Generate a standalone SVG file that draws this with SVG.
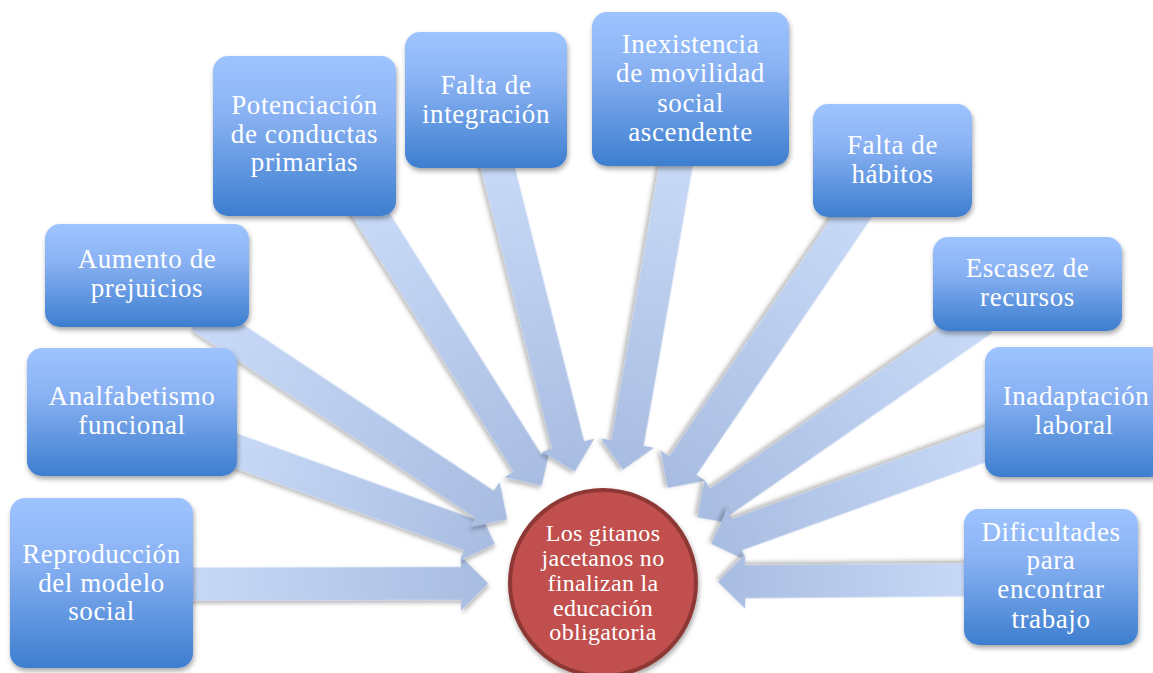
<svg xmlns="http://www.w3.org/2000/svg" width="1153" height="673" viewBox="0 0 1153 673">
<defs>
<linearGradient id="boxG" x1="0" y1="0" x2="0" y2="1">
<stop offset="0" stop-color="#9ec4ff"/>
<stop offset="0.35" stop-color="#8bb3f4"/>
<stop offset="1" stop-color="#3d7ecf"/>
</linearGradient>
<linearGradient id="arrG" x1="0" y1="0" x2="1" y2="0">
<stop offset="0" stop-color="#c9dbf8"/>
<stop offset="1" stop-color="#a8bce1"/>
</linearGradient>
<filter id="sh" x="-20%" y="-20%" width="140%" height="140%">
<feDropShadow dx="1" dy="3" stdDeviation="2.5" flood-color="#000" flood-opacity="0.35"/>
</filter>
<filter id="ash" x="-10%" y="-30%" width="120%" height="160%">
<feDropShadow dx="1.5" dy="3" stdDeviation="2" flood-color="#000" flood-opacity="0.28"/>
</filter>
</defs>
<style>
.box{fill:url(#boxG);filter:url(#sh)}
.arr{fill:url(#arrG);filter:url(#ash)}
.t{font-family:"Liberation Serif","Times New Roman",serif;font-size:27px;fill:#fff;text-anchor:middle;letter-spacing:0.6px}
.ct{font-family:"Liberation Serif","Times New Roman",serif;font-size:24px;fill:#fff;text-anchor:middle;letter-spacing:0.3px}
</style>
<rect width="1153" height="673" fill="#fff"/>
<g id="connectors">
<path class="arr" transform="translate(488,583.3) rotate(-0.14)" d="M0,0 L-27,-27 L-27,-16.5 L-315,-16.5 L-315,16.5 L-27,16.5 L-27,27 Z"/>
<path class="arr" transform="translate(494.8,544) rotate(19.83)" d="M0,0 L-27,-27 L-27,-16.5 L-294,-16.5 L-294,16.5 L-27,16.5 L-27,27 Z"/>
<path class="arr" transform="translate(507.2,519.4) rotate(33.56)" d="M0,0 L-27,-27 L-27,-16.5 L-368,-16.5 L-368,16.5 L-27,16.5 L-27,27 Z"/>
<path class="arr" transform="translate(541.7,485.7) rotate(57.81)" d="M0,0 L-27,-27 L-27,-16.5 L-339,-16.5 L-339,16.5 L-27,16.5 L-27,27 Z"/>
<path class="arr" transform="translate(574.8,471.5) rotate(75.8)" d="M0,0 L-27,-27 L-27,-16.5 L-333,-16.5 L-333,16.5 L-27,16.5 L-27,27 Z"/>
<path class="arr" transform="translate(622.8,469.7) rotate(99.94)" d="M0,0 L-27,-27 L-27,-16.5 L-328,-16.5 L-328,16.5 L-27,16.5 L-27,27 Z"/>
<path class="arr" transform="translate(667.7,487.9) rotate(124.23)" d="M0,0 L-27,-27 L-27,-16.5 L-348,-16.5 L-348,16.5 L-27,16.5 L-27,27 Z"/>
<path class="arr" transform="translate(697.5,517.4) rotate(145.22)" d="M0,0 L-27,-27 L-27,-16.5 L-347,-16.5 L-347,16.5 L-27,16.5 L-27,27 Z"/>
<path class="arr" transform="translate(711.1,543.9) rotate(160.14)" d="M0,0 L-27,-27 L-27,-16.5 L-311,-16.5 L-311,16.5 L-27,16.5 L-27,27 Z"/>
<path class="arr" transform="translate(718,582) rotate(179.52)" d="M0,0 L-27,-27 L-27,-16.5 L-266,-16.5 L-266,16.5 L-27,16.5 L-27,27 Z"/>
</g>
<g id="center">
<circle cx="603" cy="583" r="93" fill="#c0504d" stroke="#8e3835" stroke-width="4" filter="url(#sh)"/>
<text class="ct" x="603" y="541">Los gitanos</text>
<text class="ct" x="603" y="566">jacetanos no</text>
<text class="ct" x="603" y="591">finalizan la</text>
<text class="ct" x="603" y="616">educación</text>
<text class="ct" x="603" y="640">obligatoria</text>
</g>
<g id="n1">
<rect class="box" x="10" y="498" width="183" height="170" rx="15"/>
<text class="t" x="101.5" y="563">Reproducción</text>
<text class="t" x="101.5" y="591.5">del modelo</text>
<text class="t" x="101.5" y="620">social</text>
</g>
<g id="n2">
<rect class="box" x="27" y="348" width="210" height="128" rx="15"/>
<text class="t" x="132" y="405">Analfabetismo</text>
<text class="t" x="132" y="434">funcional</text>
</g>
<g id="n3">
<rect class="box" x="45" y="224" width="204" height="103" rx="15"/>
<text class="t" x="147" y="268">Aumento de</text>
<text class="t" x="147" y="297">prejuicios</text>
</g>
<g id="n4">
<rect class="box" x="213" y="56" width="183" height="160" rx="15"/>
<text class="t" x="304.5" y="114">Potenciación</text>
<text class="t" x="304.5" y="143">de conductas</text>
<text class="t" x="304.5" y="171">primarias</text>
</g>
<g id="n5">
<rect class="box" x="405" y="32" width="162" height="136" rx="15"/>
<text class="t" x="486" y="94">Falta de</text>
<text class="t" x="486" y="123">integración</text>
</g>
<g id="n6">
<rect class="box" x="592" y="12" width="197" height="154" rx="15"/>
<text class="t" x="690.5" y="53">Inexistencia</text>
<text class="t" x="690.5" y="82">de movilidad</text>
<text class="t" x="690.5" y="112">social</text>
<text class="t" x="690.5" y="141">ascendente</text>
</g>
<g id="n7">
<rect class="box" x="813" y="104" width="159" height="113" rx="15"/>
<text class="t" x="892.5" y="154">Falta de</text>
<text class="t" x="892.5" y="183">hábitos</text>
</g>
<g id="n8">
<rect class="box" x="933" y="237" width="189" height="94" rx="15"/>
<text class="t" x="1027.5" y="277">Escasez de</text>
<text class="t" x="1027.5" y="306">recursos</text>
</g>
<g id="n9">
<rect class="box" x="985" y="347" width="180" height="130" rx="15"/>
<text class="t" x="1076" y="405">Inadaptación</text>
<text class="t" x="1074" y="434">laboral</text>
</g>
<g id="n10">
<rect class="box" x="964" y="509" width="174" height="136" rx="15"/>
<text class="t" x="1051" y="541">Dificultades</text>
<text class="t" x="1051" y="569">para</text>
<text class="t" x="1051" y="598">encontrar</text>
<text class="t" x="1051" y="628">trabajo</text>
</g>
</svg>
